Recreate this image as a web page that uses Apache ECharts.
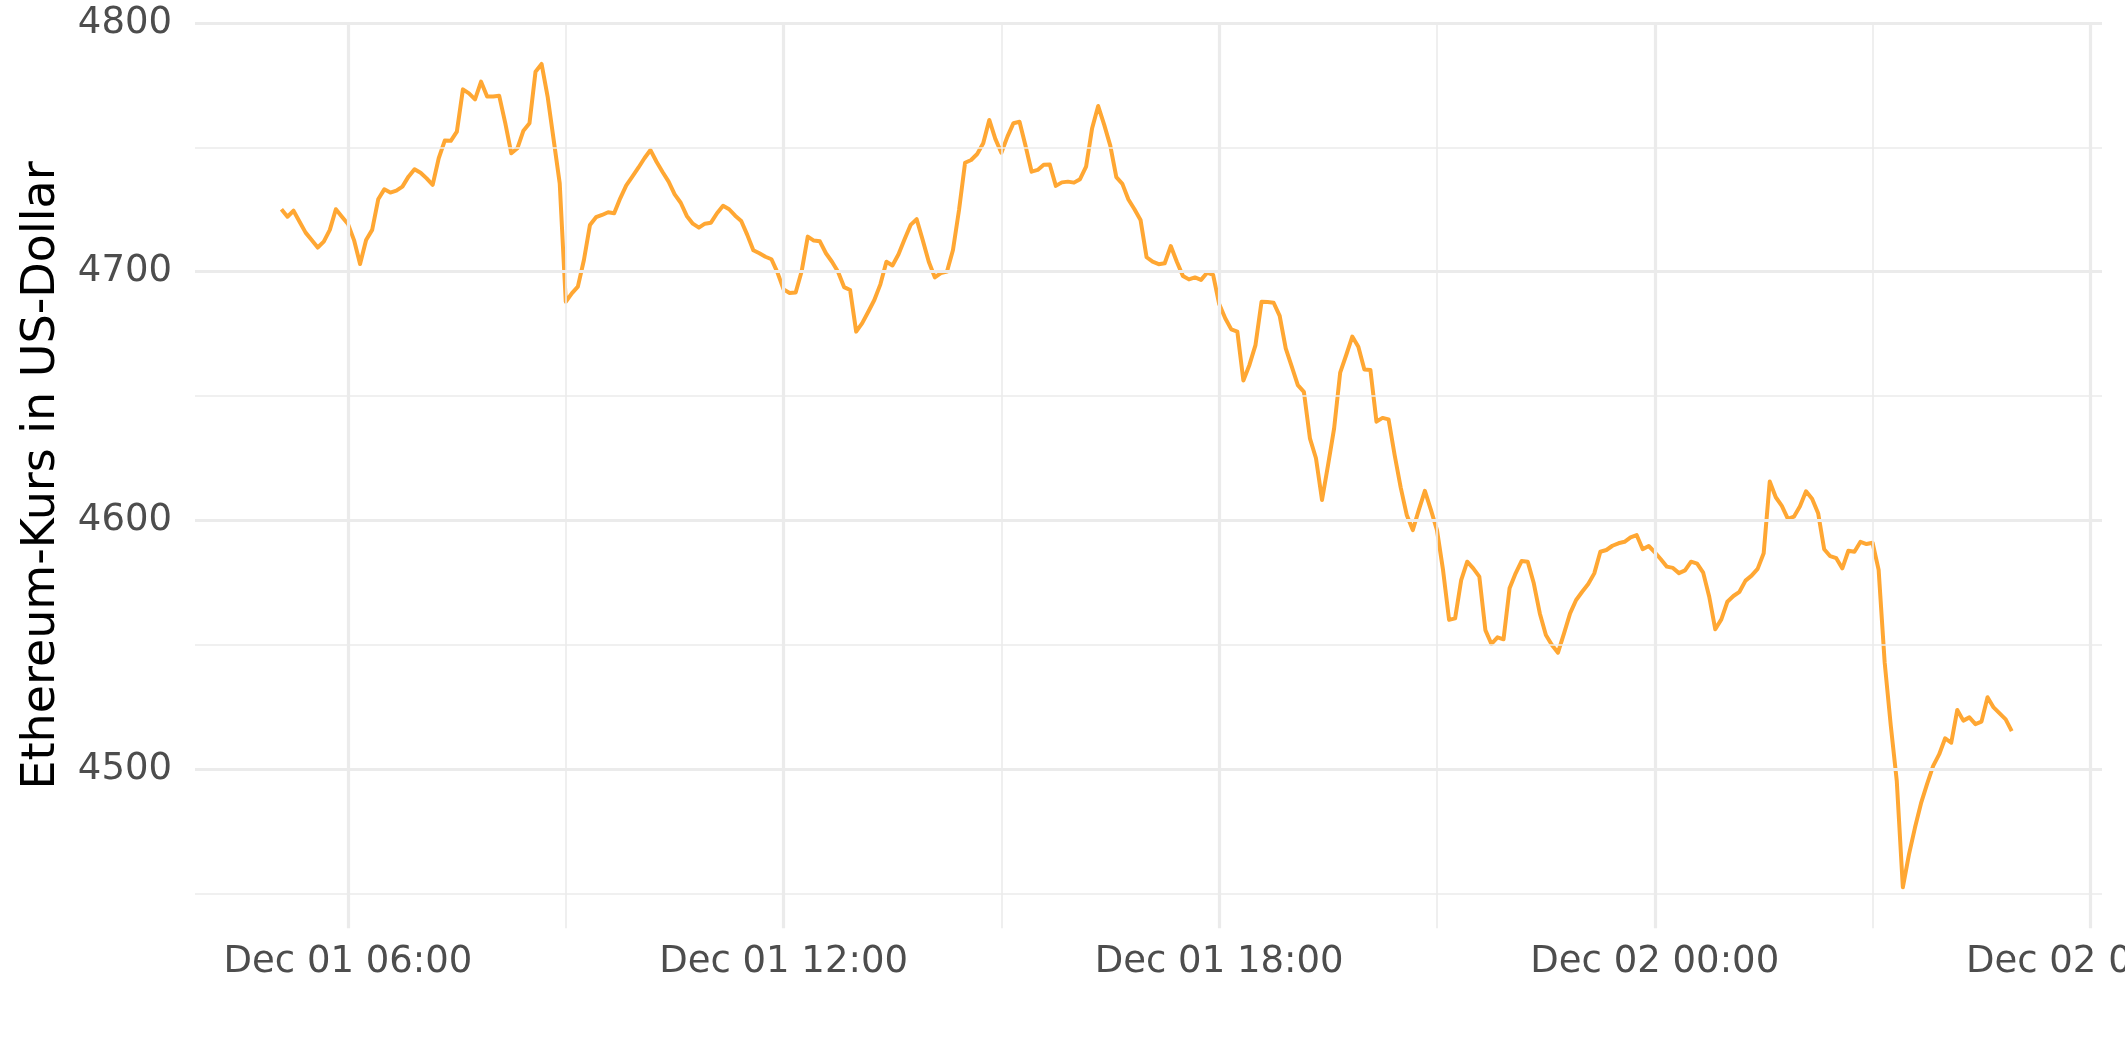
<!DOCTYPE html>
<html><head><meta charset="utf-8">
<script src="https://cdn.jsdelivr.net/npm/echarts@6/dist/echarts.min.js"></script>
<style>html,body{margin:0;padding:0;background:#fff}#c{width:2125px;height:1062px}</style>
</head><body><div id="c"></div>
<script>
// Time grid of the samples: hours since Dec 01 00:00, one sample every 5 minutes
const startHour = 5 + 5 / 60;   // Dec 01 05:05
const stepHours = 5 / 60;

// Ethereum price (USD)
const prices = [
  4725.1, 4722.1, 4724.5, 4720.1, 4715.7, 4712.7, 4709.7, 4712.1, 4716.8, 4725.1, 4722.1,
  4719.2, 4712.7, 4703.1, 4712.7, 4716.8, 4729.1, 4733.1, 4731.8, 4732.6, 4734.2,
  4738.2, 4741.2, 4739.8, 4737.5, 4734.9, 4745.6, 4752.7, 4752.6, 4756.3, 4773.3,
  4771.7, 4769.3, 4776.4, 4770.4, 4770.4, 4770.7, 4759.7, 4747.6, 4749.6, 4756.7,
  4759.7, 4780.4, 4783.5, 4770.4, 4753.0, 4735.5, 4687.9, 4691.3, 4694.0, 4704.7,
  4718.8, 4721.9, 4722.8, 4723.9, 4723.5, 4729.5, 4734.7, 4738.2, 4741.8, 4745.6,
  4748.9, 4744.2, 4740.1, 4736.2, 4731.1, 4727.7, 4722.4, 4719.3, 4717.7, 4719.3,
  4719.7, 4723.5, 4726.5, 4725.1, 4722.5, 4720.4, 4714.8, 4708.6, 4707.4, 4706.0,
  4705.0, 4699.6, 4692.9, 4691.4, 4691.6, 4700.3, 4714.1, 4712.5, 4712.2, 4707.4,
  4704.0, 4700.0, 4693.8, 4692.6, 4675.9, 4679.3, 4683.9, 4688.6, 4694.9, 4704.0,
  4702.5, 4707.0, 4713.0, 4718.8, 4721.1, 4712.7, 4704.0, 4697.7, 4699.4, 4700.0,
  4708.7, 4724.8, 4743.8, 4744.9, 4747.3, 4751.6, 4761.0, 4753.4, 4747.8, 4754.3,
  4759.7, 4760.3, 4750.5, 4740.2, 4740.9, 4743.0, 4743.1, 4734.5, 4735.9, 4736.2,
  4735.8, 4737.2, 4742.2, 4757.7, 4766.6, 4759.0, 4750.7, 4738.0, 4735.3, 4729.0,
  4725.1, 4720.8, 4705.8, 4704.0, 4703.0, 4703.4, 4710.3, 4704.0, 4698.3, 4696.9,
  4697.7, 4696.7, 4699.6, 4698.7, 4687.0, 4681.3, 4676.8, 4675.9, 4656.2, 4662.5,
  4670.5, 4687.9, 4687.8, 4687.5, 4682.2, 4669.2, 4661.8, 4654.4, 4651.7, 4633.0,
  4625.0, 4608.2, 4622.3, 4637.0, 4659.4, 4666.5, 4673.9, 4669.8, 4660.7, 4660.5,
  4639.7, 4641.2, 4640.6, 4626.3, 4613.3, 4602.2, 4596.1, 4604.2, 4611.9, 4604.2,
  4596.1, 4580.1, 4560.0, 4560.6, 4576.0, 4583.4, 4580.7, 4577.4, 4555.9, 4550.3,
  4553.0, 4552.2, 4572.7, 4578.7, 4583.7, 4583.4, 4574.7, 4562.6, 4553.9, 4549.9,
  4546.8, 4554.6, 4562.6, 4568.0, 4571.3, 4574.4, 4578.7, 4587.4, 4588.1, 4589.8,
  4590.8, 4591.4, 4593.2, 4594.1, 4588.4, 4589.7, 4587.2, 4584.4, 4581.4, 4580.9,
  4578.8, 4579.9, 4583.4, 4582.6, 4579.0, 4569.3, 4556.2, 4560.2, 4567.3, 4569.6,
  4571.3, 4575.8, 4577.8, 4580.5, 4586.8, 4615.6, 4609.3, 4605.8, 4600.6, 4601.5,
  4605.7, 4611.7, 4608.7, 4602.9, 4588.4, 4585.6, 4584.8, 4580.7, 4587.8, 4587.4,
  4591.4, 4590.5, 4591.0, 4580.1, 4542.8, 4517.7, 4495.2, 4452.5, 4465.5, 4476.4,
  4486.2, 4494.0, 4501.2, 4505.9, 4512.4, 4510.6, 4523.8, 4519.5, 4520.8, 4518.1,
  4519.1, 4528.9, 4524.8, 4522.4, 4520.0, 4515.3
];

// Axis ticks
const xMajorTicks = [6, 12, 18, 24, 30];
const xMinorTicks = [9, 15, 21, 27];
const xTickLabels = ['Dec 01 06:00', 'Dec 01 12:00', 'Dec 01 18:00', 'Dec 02 00:00', 'Dec 02 06:00'];
const yMajorTicks = [4500, 4600, 4700, 4800];
const yMinorTicks = [4450, 4550, 4650, 4750];
const yAxisTitle = 'Ethereum-Kurs in US-Dollar';

const FONT = 'DejaVu Sans';
const GRID = '#ebebeb';

const seriesData = prices.map((p, i) => [startHour + i * stepHours, p]);

const gridLines = [].concat(
  xMinorTicks.map(v => ({ xAxis: v, lineStyle: { color: GRID, width: 1.6, type: 'solid' } })),
  yMinorTicks.map(v => ({ yAxis: v, lineStyle: { color: GRID, width: 1.6, type: 'solid' } })),
  xMajorTicks.map(v => ({ xAxis: v, lineStyle: { color: GRID, width: 3.2, type: 'solid' } })),
  yMajorTicks.map(v => ({ yAxis: v, lineStyle: { color: GRID, width: 3.2, type: 'solid' } }))
);

const chart = echarts.init(document.getElementById('c'), null, { renderer: 'canvas' });
chart.setOption({
  animation: false,
  backgroundColor: '#ffffff',
  grid: { left: 195, right: 23, top: 22.7, bottom: 133.7, containLabel: false, outerBoundsMode: 'none' },
  xAxis: {
    type: 'value', min: 3.893, max: 30.16,
    axisLine: { show: false }, axisTick: { show: false }, splitLine: { show: false },
    axisLabel: {
      customValues: xMajorTicks,
      hideOverlap: false,
      formatter: function (v) {
        let best = 0;
        for (let i = 0; i < xMajorTicks.length; i++) {
          if (Math.abs(xMajorTicks[i] - v) < Math.abs(xMajorTicks[best] - v)) best = i;
        }
        return xTickLabels[best];
      },
      fontSize: 37, color: '#4d4d4d', fontFamily: FONT, margin: 16
    }
  },
  yAxis: {
    type: 'value', min: 4436, max: 4800.1,
    axisLine: { show: false }, axisTick: { show: false }, splitLine: { show: false },
    axisLabel: {
      customValues: yMajorTicks,
      formatter: function (v) { return String(Math.round(v)); },
      fontSize: 37, color: '#4d4d4d', fontFamily: FONT, margin: 23
    },
    name: yAxisTitle, nameLocation: 'middle', nameRotate: 90, nameGap: 130,
    nameTextStyle: { fontSize: 46, color: '#000000', fontFamily: FONT }
  },
  series: [
    {
      type: 'line', data: [], z: 1, silent: true,
      markLine: { silent: true, symbol: ['none', 'none'], label: { show: false }, animation: false, data: gridLines }
    },
    {
      type: 'line', data: seriesData, z: 3, showSymbol: false, symbol: 'none', smooth: false,
      lineStyle: { color: '#ffa733', width: 4, join: 'round' }
    }
  ]
});
</script>
</body></html>
